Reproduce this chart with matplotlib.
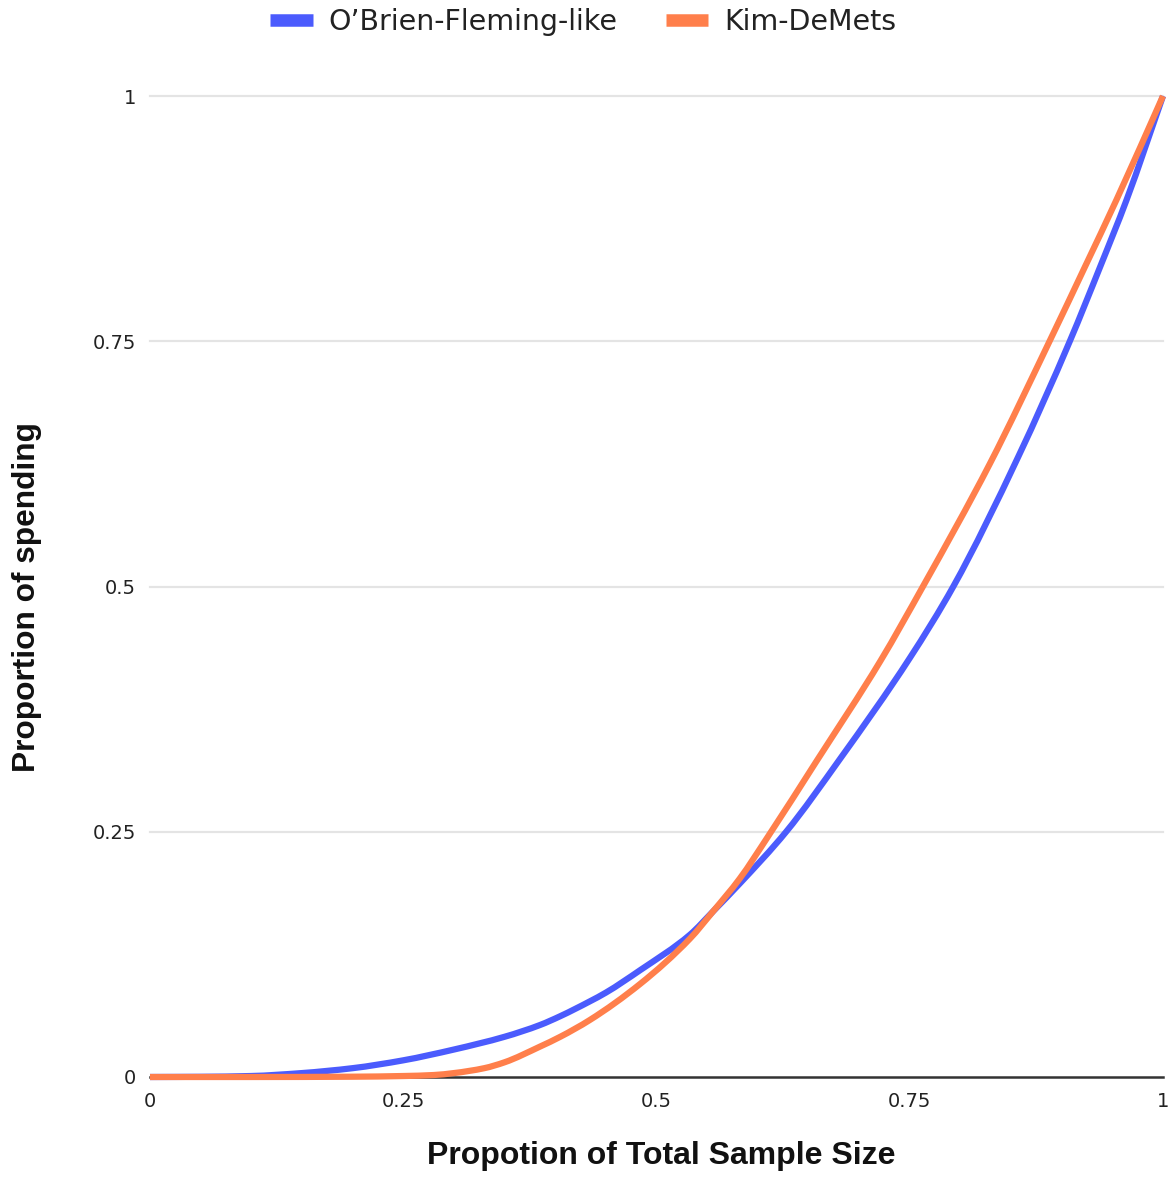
import matplotlib
matplotlib.use("Agg")
import numpy as np
import matplotlib.pyplot as plt
from matplotlib.lines import Line2D
from matplotlib.path import Path
from matplotlib.patches import PathPatch

# values
obf_t = [0, 0.05, 0.10, 0.15, 0.20, 0.25, 0.30, 0.35, 0.385, 0.405, 0.434, 0.45,
         0.484, 0.533, 0.556, 0.582, 0.628, 0.681, 0.750, 0.793, 0.857, 0.908,
         0.938, 0.964, 1.0]
obf_v = [0, 0.0002, 0.001, 0.004, 0.009, 0.017, 0.028, 0.041, 0.053, 0.062, 0.077, 0.086,
         0.109, 0.145, 0.169, 0.197, 0.25, 0.324, 0.427, 0.5, 0.632, 0.75,
         0.826, 0.894, 1.0]

kd_t = [0, 0.10, 0.20, 0.25, 0.28, 0.30, 0.33, 0.35, 0.385, 0.405, 0.434, 0.484,
        0.533, 0.556, 0.582, 0.610, 0.658, 0.721, 0.763, 0.829, 0.888, 0.923,
        0.954, 1.0]
kd_v = [0, 0.0, 0.0003, 0.001, 0.002, 0.004, 0.009, 0.015, 0.031, 0.041, 0.058, 0.095,
        0.141, 0.169, 0.202, 0.245, 0.322, 0.424, 0.5, 0.625, 0.75, 0.826,
        0.894, 1.0]

xticks = [0, 0.25, 0.5, 0.75, 1]
xtick_labels = ["0", "0.25", "0.5", "0.75", "1"]
yticks = [0, 0.25, 0.5, 0.75, 1]
ytick_labels = ["0", "0.25", "0.5", "0.75", "1"]

blue = "#4b5bfd"
orange = "#ff7f4b"


def smooth_path(xs, ys):
    # monotone cubic (Fritsch-Carlson) through the points, drawn as bezier segments
    x = np.asarray(xs, float)
    y = np.asarray(ys, float)
    h = np.diff(x)
    d = np.diff(y) / h
    m = np.zeros_like(x)
    m[0], m[-1] = d[0], d[-1]
    for i in range(1, len(x) - 1):
        if d[i - 1] * d[i] <= 0:
            m[i] = 0
        else:
            w1 = 2 * h[i] + h[i - 1]
            w2 = h[i] + 2 * h[i - 1]
            m[i] = (w1 + w2) / (w1 / d[i - 1] + w2 / d[i])
    verts = [(x[0], y[0])]
    codes = [Path.MOVETO]
    for i in range(len(h)):
        verts += [(x[i] + h[i] / 3, y[i] + m[i] * h[i] / 3),
                  (x[i + 1] - h[i] / 3, y[i + 1] - m[i + 1] * h[i] / 3),
                  (x[i + 1], y[i + 1])]
        codes += [Path.CURVE4] * 3
    return Path(verts, codes)


W, H = 1174, 1201
fig = plt.figure(figsize=(W / 100, H / 100), dpi=100)
ax = fig.add_axes([150 / W, 1 - 1077 / H, 1013 / W, 981 / H])

ax.set_xlim(0, 1)
ax.set_ylim(0, 1)

for y in yticks[1:]:
    ax.axhline(y, color="#e4e4e4", lw=1.6, zorder=1, clip_on=False)
ax.axhline(0, color="#333333", lw=1.8, zorder=2, clip_on=False)

for xs, ys, c, z in [(obf_t, obf_v, blue, 3), (kd_t, kd_v, orange, 4)]:
    ax.add_patch(PathPatch(smooth_path(xs, ys), facecolor="none", edgecolor=c,
                           lw=4.5, zorder=z, clip_on=False, capstyle="butt",
                           joinstyle="round"))

for s in ax.spines.values():
    s.set_visible(False)

ax.set_xticks(xticks)
ax.set_xticklabels(xtick_labels)
ax.set_yticks(yticks)
ax.set_yticklabels(ytick_labels)
ax.tick_params(axis="both", length=0, labelsize=14, colors="#222222")
ax.tick_params(axis="x", pad=11)
ax.tick_params(axis="y", pad=10)

ax.set_xlabel("Propotion of Total Sample Size", fontsize=23, fontweight="bold",
              family="Liberation Sans", color="#111111")
ax.xaxis.set_label_coords(0.505, -0.065)
ax.set_ylabel("Proportion of spending", fontsize=22.8, fontweight="bold",
              family="Liberation Sans", color="#111111")
ax.yaxis.set_label_coords(-0.107, 0.489)

handles = [Line2D([], [], color=blue, lw=9, solid_capstyle="butt"),
           Line2D([], [], color=orange, lw=9, solid_capstyle="butt")]
fig.legend(handles, ["O\u2019Brien-Fleming-like", "Kim-DeMets"], loc="center",
           bbox_to_anchor=(583 / W, 1 - 22 / H), ncol=2, frameon=False,
           fontsize=20.5, handlelength=1.5, handletextpad=0.55, columnspacing=1.7,
           labelcolor="#222222")

fig.savefig("out.png", dpi=100)
